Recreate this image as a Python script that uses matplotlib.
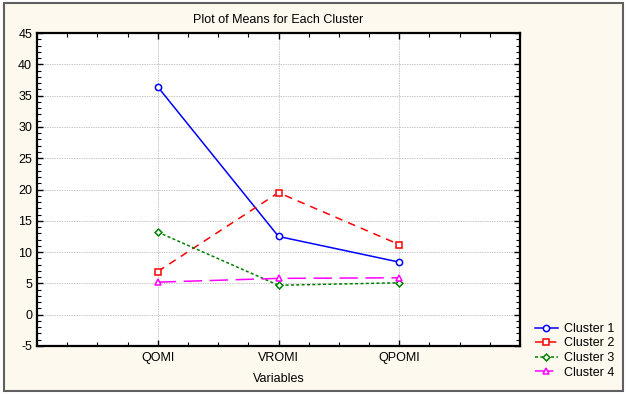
import matplotlib
matplotlib.use("Agg")
import matplotlib.pyplot as plt
from matplotlib.patches import Rectangle
from matplotlib.ticker import MultipleLocator

plt.rcParams["font.family"] = ["Liberation Sans", "DejaVu Sans"]
plt.rcParams["axes.unicode_minus"] = False

variables = ["QOMI", "VROMI", "QPOMI"]
cluster_1 = [36.4, 12.5, 8.4]
cluster_2 = [6.9, 19.5, 11.2]
cluster_3 = [13.2, 4.7, 5.1]
cluster_4 = [5.2, 5.8, 5.9]
labels = ["Cluster 1", "Cluster 2", "Cluster 3", "Cluster 4"]

fig = plt.figure(figsize=(6.27, 3.94), dpi=100, facecolor="white")
# cream panel with grey frame
fig.patches.append(Rectangle((4 / 627, 3 / 394), 619 / 627, 388 / 394,
                             transform=fig.transFigure, facecolor="#fdf9ee",
                             edgecolor="#606060", linewidth=1.5, zorder=-10))

ax = fig.add_axes([37 / 627, 48 / 394, 483 / 627, 313 / 394])
ax.set_facecolor("white")

x = [1, 2, 3]
styles = [
    dict(color="blue", linestyle="-", marker="o"),
    dict(color="red", linestyle=(0, (5, 4)), marker="s"),
    dict(color="green", linestyle=(0, (2, 1.5)), marker="D", markersize=3.5),
    dict(color="magenta", linestyle=(0, (12, 5)), marker="^"),
]
for vals, lab, st in zip([cluster_1, cluster_2, cluster_3, cluster_4], labels, styles):
    kw = dict(linewidth=1.1, markersize=4.5, markerfacecolor="white",
              markeredgewidth=1.1)
    kw.update(st)
    ax.plot(x, vals, label=lab, **kw)

ax.set_xlim(0, 4)
ax.set_ylim(-5, 45)
ax.set_xticks(x)
ax.set_xticklabels(variables)
ax.xaxis.set_minor_locator(MultipleLocator(0.25))
ax.yaxis.set_major_locator(MultipleLocator(5))
ax.yaxis.set_minor_locator(MultipleLocator(1))
ax.tick_params(which="both", direction="in", top=True, right=True,
               labelsize=9, colors="black")
ax.tick_params(which="major", length=4, width=1)
ax.tick_params(which="minor", length=3, width=0.8)
ax.tick_params(axis="x", which="major", pad=4)
ax.grid(True, which="major", color="#c8c8c8", linestyle=(0, (1.5, 1)), linewidth=0.7)
for sp in ax.spines.values():
    sp.set_linewidth(1.6)
    sp.set_color("black")

ax.set_title("Plot of Means for Each Cluster", fontsize=9, pad=7)
ax.set_xlabel("Variables", fontsize=9, labelpad=7)

fig.legend(loc="upper left", bbox_to_anchor=(530 / 627, 76 / 394),
           frameon=False, fontsize=9, handlelength=1.8, handletextpad=0.5,
           labelspacing=0.2, borderaxespad=0)

fig.savefig("out.png", dpi=100)
